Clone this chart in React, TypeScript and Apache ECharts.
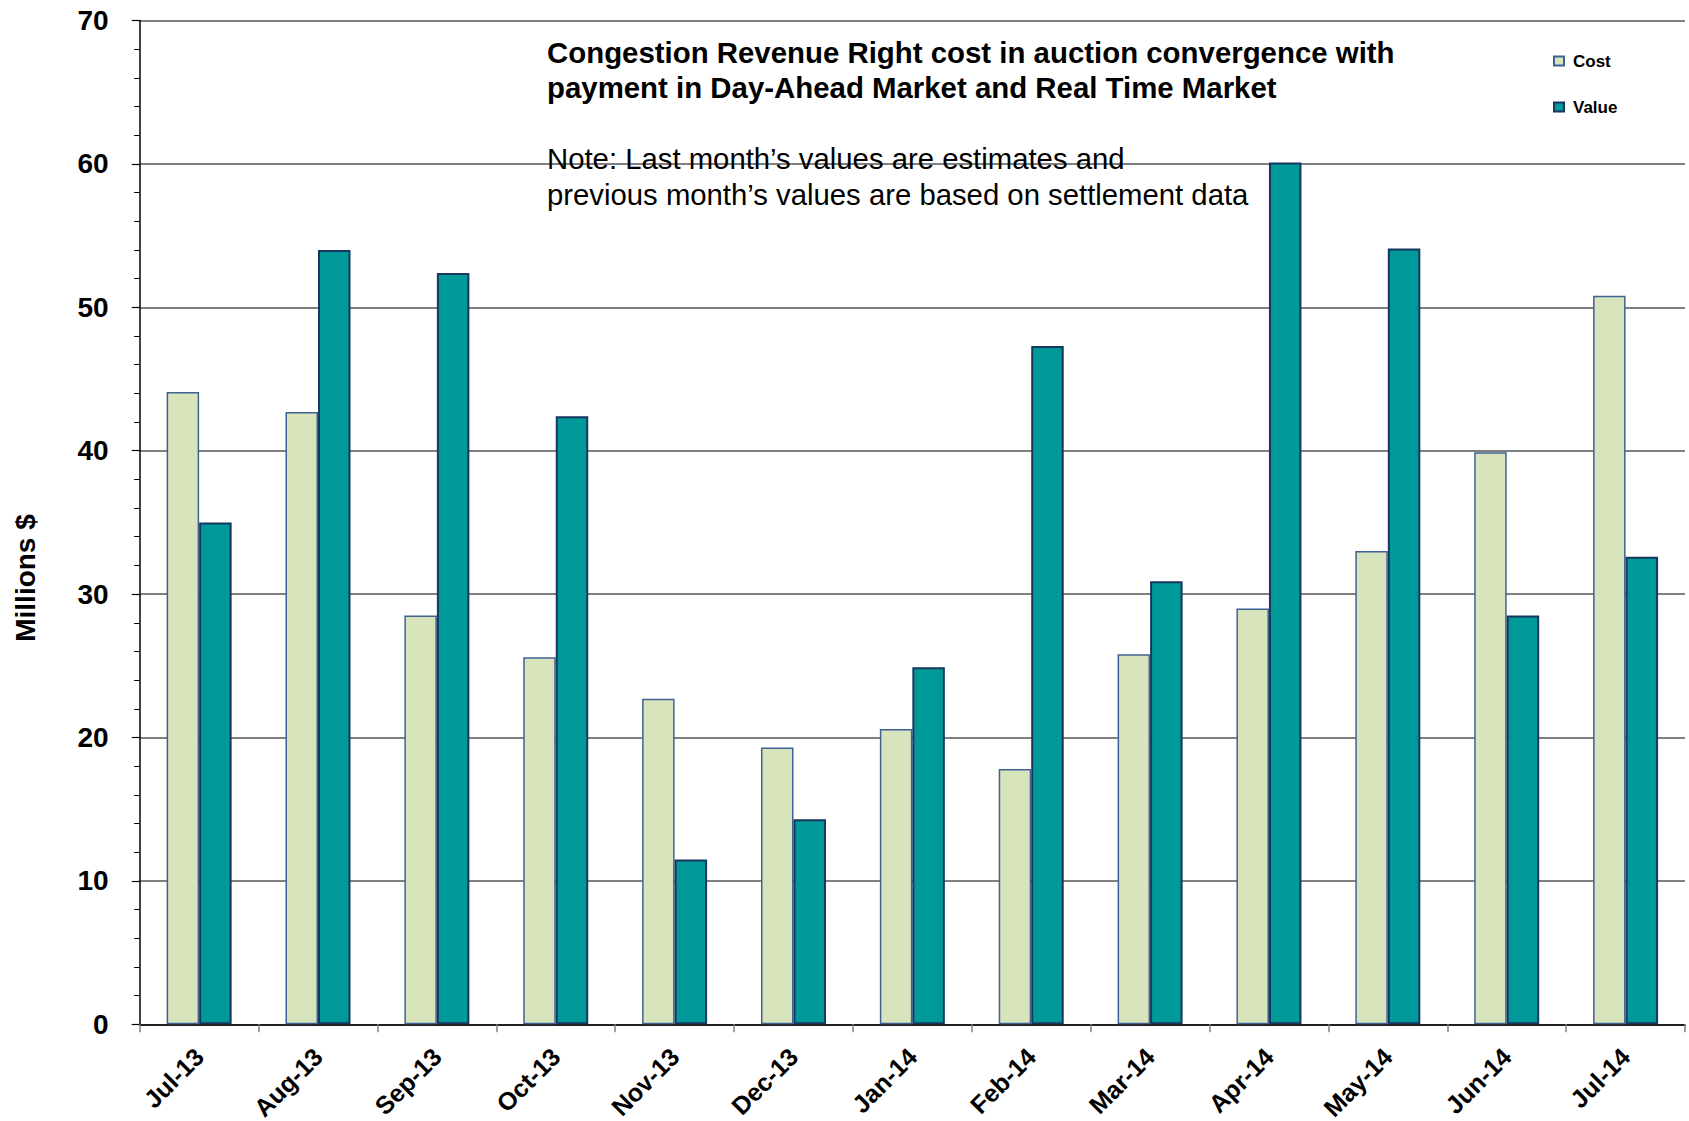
import React, { useEffect, useRef } from "react";
import * as echarts from "echarts";

const categories = ["Jul-13", "Aug-13", "Sep-13", "Oct-13", "Nov-13", "Dec-13", "Jan-14", "Feb-14", "Mar-14", "Apr-14", "May-14", "Jun-14", "Jul-14"];
const costValues = [44.1, 42.7, 28.5, 25.6, 22.7, 19.3, 20.6, 17.8, 25.8, 29.0, 33.0, 39.9, 50.8];
const valueValues = [35.0, 54.0, 52.4, 42.4, 11.5, 14.3, 24.9, 47.3, 30.9, 60.1, 54.1, 28.5, 32.6];
const titleLines = [
  "Congestion Revenue Right cost in auction convergence with",
  "payment in Day-Ahead Market and Real Time Market",
];
const noteLines = [
  "Note: Last month\u2019s values are estimates and",
  "previous month\u2019s values are based on settlement data",
];
const yAxisName = "Millions $";

const FONT = "'Liberation Sans', Arial, Helvetica, sans-serif";

export default function App() {
  const ref = useRef<HTMLDivElement>(null);
  useEffect(() => {
    if (!ref.current) return;
    const chart = echarts.init(ref.current, null, { renderer: "svg" });
    chart.setOption({
      animation: false,
      backgroundColor: "#ffffff",
      textStyle: { fontFamily: FONT },
      title: [
        {
          text: titleLines.join("\n"),
          left: 547,
          top: 35,
          padding: 0,
          textStyle: { fontFamily: FONT, fontSize: 29.4, fontWeight: "bold", color: "#000", lineHeight: 35 },
        },
        {
          text: noteLines.join("\n"),
          left: 547,
          top: 141,
          padding: 0,
          textStyle: { fontFamily: FONT, fontSize: 29.3, fontWeight: "normal", color: "#000", lineHeight: 35.5 },
        },
      ],
      legend: {
        orient: "vertical",
        left: 1553,
        top: 51,
        padding: 0,
        itemWidth: 10,
        itemHeight: 9,
        itemGap: 26,
        icon: "rect",
        textStyle: { fontFamily: FONT, fontSize: 17, fontWeight: "bold", color: "#000", lineHeight: 20, padding: [0, 0, 0, 4] },
        data: ["Cost", "Value"],
      },
      graphic: [
        {
          type: "text",
          x: 25,
          y: 578,
          rotation: Math.PI / 2,
          style: {
            text: yAxisName,
            font: `bold 28px ${FONT}`,
            fill: "#000",
            textAlign: "center",
            textVerticalAlign: "middle",
          },
        },
      ],
      grid: { left: 139.7, right: 4, top: 20.5, bottom: 96.7, containLabel: false, outerBoundsMode: "none" },
      xAxis: {
        type: "category",
        data: categories,
        boundaryGap: true,
        axisLine: { show: true, lineStyle: { color: "#000", width: 1.5 } },
        axisTick: { show: true, length: 8, lineStyle: { color: "#808080", width: 1.5 } },
        axisLabel: {
          rotate: 45,
          margin: 28,
          fontFamily: FONT,
          fontSize: 25,
          fontWeight: "bold",
          color: "#000",
          interval: 0,
        },
        splitLine: { show: false },
      },
      yAxis: {
        type: "value",
        min: 0,
        max: 70,
        interval: 10,
        axisLine: { show: true, lineStyle: { color: "#000", width: 1.5 } },
        axisTick: { show: true, length: 8, lineStyle: { color: "#000", width: 1.2 } },
        minorTick: { show: true, splitNumber: 5, length: 5.5, lineStyle: { color: "#000", width: 1 } },
        axisLabel: { margin: 31, fontFamily: FONT, fontSize: 28, fontWeight: "bold", color: "#000" },
        splitLine: { show: true, lineStyle: { color: "#808080", width: 2 } },
      },
      series: [
        {
          name: "Cost",
          type: "bar",
          data: costValues,
          barWidth: 32.5,
          barGap: "0%",
          itemStyle: { color: "#D8E4BC", borderColor: "#3F6294", borderWidth: 1.5 },
        },
        {
          name: "Value",
          type: "bar",
          data: valueValues,
          barWidth: 32.5,
          barGap: "0%",
          itemStyle: { color: "#009999", borderColor: "#17375E", borderWidth: 2 },
        },
      ],
    });
    return () => chart.dispose();
  }, []);
  return <div ref={ref} style={{ position: "fixed", left: 0, top: 0, width: 1689, height: 1121 }} />;
}
